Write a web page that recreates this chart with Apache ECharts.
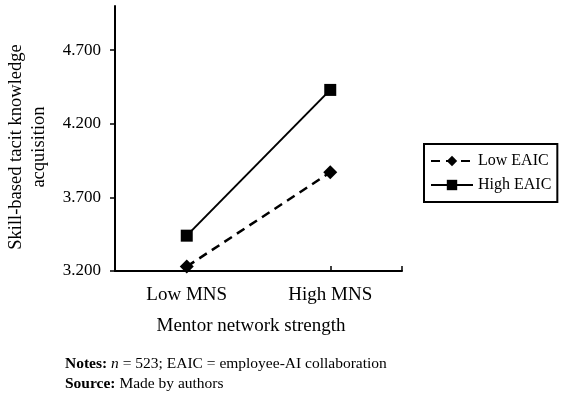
<!DOCTYPE html>
<html>
<head>
<meta charset="utf-8">
<script src="https://cdn.jsdelivr.net/npm/echarts@6/dist/echarts.min.js"></script>
<style>
html, body { margin: 0; padding: 0; background: #fff; }
#chart { width: 566px; height: 413px; }
</style>
</head>
<body>
<div id="chart"></div>
<script>
// categories on the x axis
const categories = ['Low MNS', 'High MNS'];
// y tick labels
const yTicks = [3.2, 3.7, 4.2, 4.7];
// simple slopes
const lowEAIC = [3.23, 3.87];
const highEAIC = [3.44, 4.43];

const serif = '"Liberation Serif", "Times New Roman", serif';

const chart = echarts.init(document.getElementById('chart'));

chart.setOption({
    animation: false,
    grid: {
        left: 115,
        right: 164,
        top: 6,
        bottom: 142
    },
    xAxis: {
        type: 'value',
        min: -0.5,
        max: 1.5,
        splitLine: { show: false },
        axisLine: {
            show: true,
            onZero: false,
            lineStyle: { color: '#000', width: 2 }
        },
        axisTick: {
            show: true,
            inside: true,
            length: 5,
            customValues: [0, 1, 1.5],
            lineStyle: { color: '#000', width: 1.5 }
        },
        axisLabel: {
            customValues: [0, 1],
            formatter: v => categories[Math.round(v)],
            color: '#000',
            fontFamily: serif,
            fontSize: 19,
            margin: 15
        }
    },
    yAxis: {
        type: 'value',
        min: 3.2,
        max: 5.0,
        splitLine: { show: false },
        axisLine: {
            show: true,
            onZero: false,
            lineStyle: { color: '#000', width: 2 }
        },
        axisTick: {
            show: true,
            length: 5,
            customValues: yTicks,
            lineStyle: { color: '#000', width: 1.5 }
        },
        axisLabel: {
            customValues: yTicks,
            formatter: v => v.toFixed(3),
            color: '#000',
            fontFamily: serif,
            fontSize: 17,
            margin: 14
        }
    },
    legend: {
        orient: 'vertical',
        left: 424,
        top: 144,
        padding: [9, 6, 9, 6],
        itemWidth: 42,
        itemHeight: 13,
        itemGap: 8,
        borderColor: '#000',
        borderWidth: 2,
        textStyle: {
            color: '#000',
            fontFamily: serif,
            fontSize: 16
        },
        data: ['Low EAIC', 'High EAIC']
    },
    series: [
        {
            name: 'Low EAIC',
            type: 'line',
            data: lowEAIC.map((v, i) => [i, v]),
            symbol: 'diamond',
            symbolSize: 14,
            itemStyle: { color: '#000' },
            lineStyle: { color: '#000', width: 2.5, type: [9, 6] },
            z: 3
        },
        {
            name: 'High EAIC',
            type: 'line',
            data: highEAIC.map((v, i) => [i, v]),
            symbol: 'rect',
            symbolSize: 12,
            itemStyle: { color: '#000' },
            lineStyle: { color: '#000', width: 2 },
            z: 3
        }
    ],
    graphic: [
        {
            type: 'text',
            x: 28,
            y: 147,
            rotation: Math.PI / 2,
            style: {
                text: 'Skill-based tacit knowledge\nacquisition',
                fill: '#000',
                font: '18.5px ' + serif,
                align: 'center',
                verticalAlign: 'middle',
                lineHeight: 23
            }
        },
        {
            type: 'text',
            x: 251,
            y: 326,
            style: {
                text: 'Mentor network strength',
                fill: '#000',
                font: '19px ' + serif,
                align: 'center',
                verticalAlign: 'middle'
            }
        },
        {
            type: 'text',
            x: 65,
            y: 364,
            style: {
                text: '{b|Notes:} {i|n} = 523; EAIC = employee-AI collaboration',
                fill: '#000',
                font: '15.5px ' + serif,
                verticalAlign: 'middle',
                rich: {
                    b: { fontWeight: 'bold', fontFamily: serif, fontSize: 15.5 },
                    i: { fontStyle: 'italic', fontFamily: serif, fontSize: 15.5 }
                }
            }
        },
        {
            type: 'text',
            x: 65,
            y: 384,
            style: {
                text: '{b|Source:} Made by authors',
                fill: '#000',
                font: '15.5px ' + serif,
                verticalAlign: 'middle',
                rich: {
                    b: { fontWeight: 'bold', fontFamily: serif, fontSize: 15.5 }
                }
            }
        }
    ]
});
</script>
</body>
</html>
